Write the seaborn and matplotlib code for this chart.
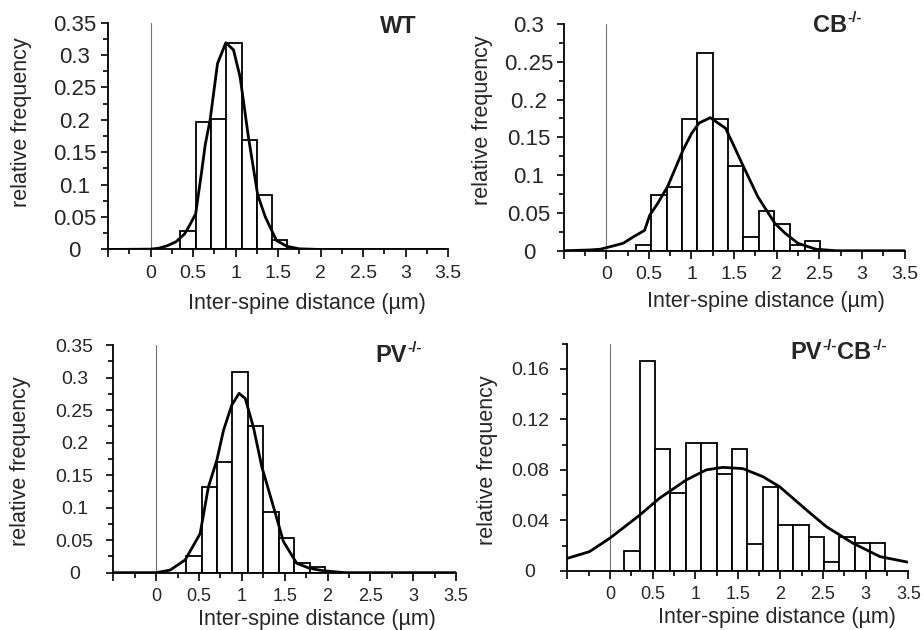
import numpy as np
import pandas as pd
import matplotlib
matplotlib.use("Agg")
import matplotlib.pyplot as plt
import seaborn as sns
from matplotlib.ticker import MultipleLocator, FixedLocator

sns.set_style("ticks")
plt.rcParams['font.family'] = ['Liberation Sans', 'DejaVu Sans']

# ---- data ----
bin_edges = [0.17, 0.35, 0.53, 0.71, 0.89, 1.07, 1.25, 1.43, 1.61, 1.79,
             1.97, 2.15, 2.33, 2.51, 2.69, 2.87, 3.05, 3.23]

wt_freq = [0, 0.029, 0.196, 0.201, 0.319, 0.169, 0.084, 0.014,
           0, 0, 0, 0, 0, 0, 0, 0, 0]
cb_freq = [0, 0.0075, 0.074, 0.084, 0.174, 0.262, 0.174, 0.112, 0.018,
           0.052, 0.035, 0.0075, 0.013, 0, 0, 0, 0]
pv_freq = [0, 0.025, 0.132, 0.171, 0.309, 0.225, 0.094, 0.054, 0.015,
           0.008, 0, 0, 0, 0, 0, 0, 0]
pvcb_freq = [0.016, 0.166, 0.0965, 0.0614, 0.1015, 0.1015, 0.0764, 0.0965,
             0.0213, 0.0667, 0.0364, 0.0364, 0.0266, 0.0069, 0.0266, 0.0219, 0.0219]

wt_fit_x = [-0.5, 0.0, 0.1, 0.2, 0.3, 0.4, 0.47, 0.53, 0.6, 0.643, 0.70, 0.787,
            0.885, 0.975, 1.053, 1.15, 1.26, 1.35, 1.48, 1.6, 1.75, 2.0, 3.5]
wt_fit_y = [0, 0.0005, 0.002, 0.006, 0.012, 0.024, 0.04, 0.055, 0.12, 0.162,
            0.20, 0.287, 0.319, 0.308, 0.266, 0.174, 0.084, 0.050, 0.014, 0.005,
            0.001, 0, 0]
cb_fit_x = [-0.5, -0.2, -0.07, 0.12, 0.2, 0.32, 0.45, 0.51, 0.6, 0.72, 0.9, 1.0,
            1.09, 1.22, 1.4, 1.5, 1.59, 1.78, 1.98, 2.1, 2.25, 2.46, 2.7, 3.5]
cb_fit_y = [0, 0.001, 0.002, 0.0075, 0.010, 0.0185, 0.027, 0.047, 0.062, 0.085,
            0.133, 0.155, 0.169, 0.176, 0.162, 0.138, 0.116, 0.071, 0.036, 0.023,
            0.0098, 0.002, 0, 0]
pv_fit_x = [-0.5, 0, 0.163, 0.338, 0.513, 0.61, 0.708, 0.786, 0.883, 0.968, 1.04,
            1.135, 1.233, 1.37, 1.485, 1.64, 1.79, 1.95, 2.2, 3.5]
pv_fit_y = [0, 0, 0.004, 0.0195, 0.06, 0.132, 0.173, 0.219, 0.258, 0.276, 0.268,
            0.224, 0.163, 0.101, 0.048, 0.0145, 0.0067, 0.003, 0, 0]
pvcb_fit_x = [-0.5, -0.24, 0, 0.345, 0.58, 0.894, 1.13, 1.325, 1.56, 1.795, 1.99,
              2.31, 2.54, 2.85, 3.17, 3.5]
pvcb_fit_y = [0.010, 0.0153, 0.026, 0.044, 0.0575, 0.072, 0.080, 0.082, 0.081,
              0.0746, 0.0667, 0.048, 0.035, 0.022, 0.0113, 0.0069]

x_ticks = [-0.5, 0, 0.5, 1, 1.5, 2, 2.5, 3, 3.5]
x_labels = ["", "0", "0.5", "1", "1.5", "2", "2.5", "3", "3.5"]
wt_yticks = [0, 0.05, 0.1, 0.15, 0.2, 0.25, 0.3, 0.35]
wt_ylabels = ["0", "0.05", "0.1", "0.15", "0.2", "0.25", "0.3", "0.35"]
cb_yticks = [0, 0.05, 0.1, 0.15, 0.2, 0.25, 0.3]
cb_ylabels = ["0", "0.05", "0.1", "0.15", "0..2", "0..25", "0.3"]
pvcb_yticks = [0, 0.04, 0.08, 0.12, 0.16]
pvcb_ylabels = ["0", "0.04", "0.08", "0.12", "0.16"]

panels = [
    dict(name=("WT", None), freq=wt_freq, fx=wt_fit_x, fy=wt_fit_y,
         yt=wt_yticks, yl=wt_ylabels, ymax=0.35, yminor=0.025,
         rect=[0.117, 0.604, 0.368, 0.360], ytfs=16, xtfs=14, ypad=19,
         ylab=(-0.256, 0.563), xlab=(0.584, -0.239), title=(0.80, 0.954)),
    dict(name=("CB", None), freq=cb_freq, fx=cb_fit_x, fy=cb_fit_y,
         yt=cb_yticks, yl=cb_ylabels, ymax=0.30, yminor=0.025,
         rect=[0.610, 0.602, 0.369, 0.360], ytfs=16, xtfs=14, ypad=20,
         ylab=(-0.239, 0.577), xlab=(0.594, -0.225), title=(0.73, 0.966)),
    dict(name=("PV", None), freq=pv_freq, fx=pv_fit_x, fy=pv_fit_y,
         yt=wt_yticks, yl=wt_ylabels, ymax=0.35, yminor=0.025,
         rect=[0.1226, 0.091, 0.371, 0.361], ytfs=14, xtfs=13, ypad=23,
         ylab=(-0.27, 0.491), xlab=(0.593, -0.208), title=(0.764, 0.927)),
    dict(name=("PV", "CB"), freq=pvcb_freq, fx=pvcb_fit_x, fy=pvcb_fit_y,
         yt=pvcb_yticks, yl=pvcb_ylabels, ymax=0.18, yminor=0.02,
         rect=[0.614, 0.0937, 0.369, 0.361], ytfs=14, xtfs=13, ypad=22,
         ylab=(-0.234, 0.487), xlab=(0.614, -0.206), title=(0.653, 0.93)),
]

fig = plt.figure(figsize=(9.24, 6.30), dpi=100)
edges = np.array(bin_edges)
centers = (edges[:-1] + edges[1:]) / 2

for p in panels:
    ax = fig.add_axes(p["rect"])
    freq = np.array(p["freq"])
    nz = np.nonzero(freq)[0]
    i0, i1 = int(nz[0]), int(nz[-1])
    df = pd.DataFrame({"x": centers[i0:i1 + 1], "w": freq[i0:i1 + 1]})
    sns.histplot(data=df, x="x", weights="w", bins=[float(e) for e in edges[i0:i1 + 2]],
                 ax=ax, stat="count", color="white", edgecolor="black",
                 linewidth=1.3, alpha=1.0)
    ax.axvline(0, color="0.45", lw=0.8, zorder=1)
    fit = pd.DataFrame({"x": p["fx"], "y": p["fy"]})
    sns.lineplot(data=fit, x="x", y="y", ax=ax, color="black", lw=2.0, sort=False)

    ax.set_xlim(-0.5, 3.5)
    ax.set_ylim(0, p["ymax"])
    sns.despine(ax=ax)
    for s in ["left", "bottom"]:
        ax.spines[s].set_linewidth(1.3)
        ax.spines[s].set_color("black")

    ax.xaxis.set_major_locator(FixedLocator(x_ticks))
    ax.set_xticklabels(x_labels, fontsize=p["xtfs"])
    ax.xaxis.set_minor_locator(MultipleLocator(0.25))
    ax.yaxis.set_major_locator(FixedLocator(p["yt"]))
    ax.set_yticklabels(p["yl"], fontsize=p["ytfs"])
    ax.yaxis.set_minor_locator(MultipleLocator(p["yminor"]))
    ax.tick_params(axis="x", which="major", length=6, width=1.2, pad=5, color="black")
    ax.tick_params(axis="x", which="minor", length=3.5, width=1.2, color="black")
    ax.tick_params(axis="y", which="major", length=5, width=1.2, pad=p["ypad"], color="black")
    ax.tick_params(axis="y", which="minor", length=3.5, width=1.2, color="black")
    for lab in ax.get_yticklabels():
        lab.set_horizontalalignment("center")

    ax.set_xlabel("Inter-spine distance (\u00b5m)", fontsize=15.5, va="center")
    ax.xaxis.set_label_coords(*p["xlab"])
    ax.set_ylabel("relative frequency", fontsize=15.5, va="center")
    ax.yaxis.set_label_coords(*p["ylab"])

    tx, ty = p["title"]
    first, second = p["name"]
    t1 = ax.text(tx, ty, first, transform=ax.transAxes, fontsize=17,
                 fontweight="bold", ha="left", va="baseline")
    if first != "WT":
        s1 = ax.annotate("-/-", xy=(1, ty), xycoords=(t1, ax.transAxes),
                         xytext=(0.5, 7), textcoords="offset points",
                         fontsize=11, fontweight="bold", ha="left", va="baseline")
        if second:
            t2 = ax.annotate(second, xy=(1, ty), xycoords=(s1, ax.transAxes),
                             xytext=(0.5, 0), textcoords="offset points",
                             fontsize=17, fontweight="bold", ha="left", va="baseline")
            ax.annotate("-/-", xy=(1, ty), xycoords=(t2, ax.transAxes),
                        xytext=(0.5, 7), textcoords="offset points",
                        fontsize=11, fontweight="bold", ha="left", va="baseline")

fig.savefig("out.png", dpi=100)
